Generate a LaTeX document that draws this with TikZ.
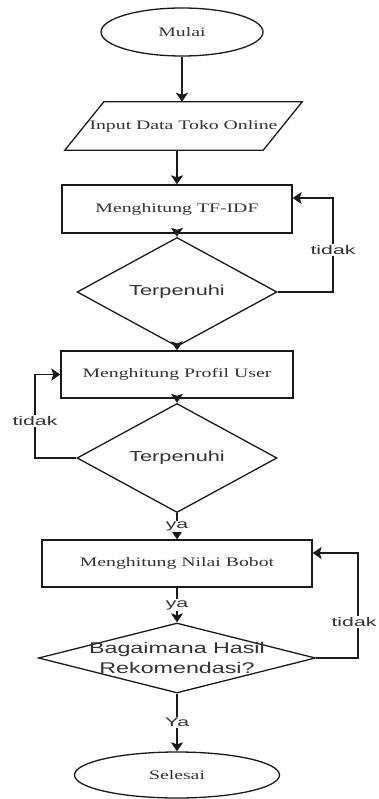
\documentclass[tikz,border=0pt]{standalone}
\usepackage{fontspec}
\usetikzlibrary{shapes.geometric,arrows.meta,calc}
\newfontfamily\procfont[FakeStretch=1.52]{Liberation Serif}
\newfontfamily\decfont[FakeStretch=1.5]{Liberation Sans}
\newfontfamily\lblfont[FakeStretch=1.7]{Liberation Sans}
\definecolor{ink}{HTML}{1A1A1A}
\definecolor{txt}{HTML}{333333}

\begin{document}
\begin{tikzpicture}[x=1pt,y=-1pt,
  shapeline/.style={draw=ink, line width=1.3pt},
  terminal/.style={shapeline, ellipse, inner sep=0pt, text=txt,
    font=\procfont\fontsize{13}{15}\selectfont},
  process/.style={shapeline, rectangle, inner sep=0pt, text=txt,
    font=\procfont\fontsize{13}{15}\selectfont},
  iobox/.style={rectangle, inner sep=0pt, text=txt,
    font=\procfont\fontsize{13}{15}\selectfont},
  decision/.style={shapeline, diamond, inner sep=0pt, text=txt,
    font=\decfont\fontsize{14.5}{20}\selectfont},
  decisiontext/.style={text=txt, align=center, inner sep=0pt,
    font=\decfont\fontsize{15.5}{20}\selectfont},
  tip/.style={-{Stealth[width=12pt,length=9pt,inset=2pt]}},
  flow/.style={draw=ink, line width=1.6pt, tip},
  loopline/.style={draw=ink, line width=1.5pt, tip},
  edgelabel/.style={fill=white, inner sep=1pt, text=txt,
    font=\lblfont\fontsize{12.5}{14}\selectfont}
]
\useasboundingbox (0,0) rectangle (378,799);

% nodes
\node[terminal, minimum width=162pt, minimum height=48pt] (start) at (182,32) {Mulai};
\node[iobox, minimum width=198pt, minimum height=48pt] (input) at (183.5,126) {Input Data Toko Online};
\draw[shapeline] ($(input.south west)+(-19.5,0)$) -- ($(input.north west)+(19.5,0)$)
  -- ($(input.north east)+(19.5,0)$) -- ($(input.south east)+(-19.5,0)$) -- cycle;
\node[process, minimum width=230pt, minimum height=48pt] (tfidf) at (177,209) {Menghitung TF-IDF};
\node[decision, minimum width=200pt, minimum height=70pt] (d1) at (177,292) {Terpenuhi};
\node[process, minimum width=232pt, minimum height=47pt] (profil) at (177,374.5) {Menghitung Profil User};
\node[decision, minimum width=200pt, minimum height=70pt] (d2) at (177,458) {Terpenuhi};
\node[process, minimum width=270pt, minimum height=47pt] (nilai) at (177,563.5) {Menghitung Nilai Bobot};
\node[decision, minimum width=277pt, minimum height=70pt,
  label={[decisiontext]center:Bagaimana Hasil\\Rekomendasi?}] (d3) at (177,658) {};
\node[terminal, minimum width=205pt, minimum height=46pt] (end) at (177,775) {Selesai};

% loop bends
\coordinate (r1) at (333,250);
\coordinate (l2) at (35,421);
\coordinate (r3) at (358,622);

% connectors
\draw[flow] (start) -- (start |- input.north);
\draw[flow] (input.south -| tfidf) -- (tfidf);
\draw[flow] (tfidf) -- (d1);
\draw[loopline] (d1.east) -| (r1) node[edgelabel] {tidak} |- ([yshift=11pt]tfidf.east);
\draw[flow] (d1) -- (profil);
\draw[flow] (profil) -- (d2);
\draw[loopline] (d2.west) -| (l2) node[edgelabel] {tidak} |- (profil.west);
\draw[flow] (d2) -- node[edgelabel] {ya} (nilai);
\draw[flow] (nilai) -- node[edgelabel] {ya} (d3);
\draw[loopline] (d3.east) -| (r3) node[edgelabel, xshift=-4pt] {tidak} |- ([yshift=10.5pt]nilai.east);
\draw[flow] (d3) -- node[edgelabel] {Ya} (end);
\end{tikzpicture}
\end{document}
